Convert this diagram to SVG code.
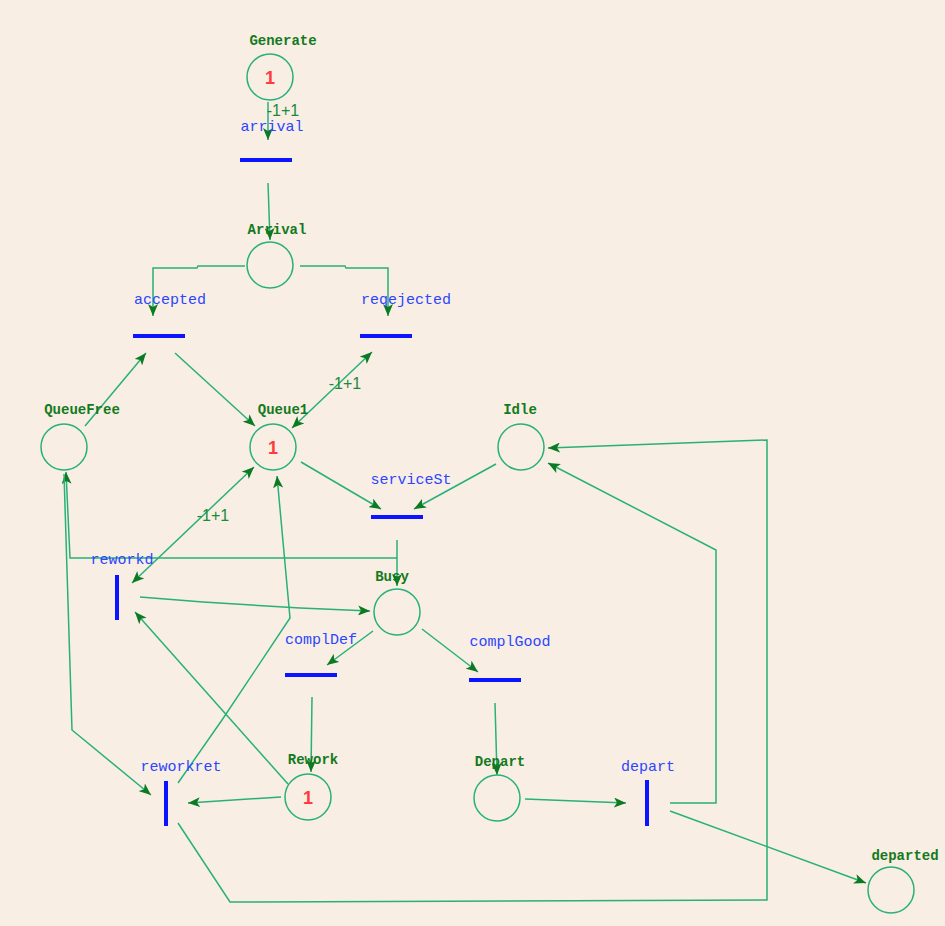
<svg xmlns="http://www.w3.org/2000/svg" width="945" height="926" viewBox="0 0 945 926">
  <defs>
    <marker id="arrow" viewBox="0 0 12 10" refX="12" refY="5" markerWidth="12" markerHeight="10" markerUnits="userSpaceOnUse" orient="auto-start-reverse">
      <path d="M0,0 L12,5 L0,10 L3,5 z" fill="#0b7a22"/>
    </marker>
    <style>
      .bg { fill: #f9eee3; }
      .place { fill: none; stroke: #27b07a; stroke-width: 1.5; }
      .arc { fill: none; stroke: #27b07a; stroke-width: 1.5; }
      .head { marker-end: url(#arrow); }
      .both { marker-start: url(#arrow); marker-end: url(#arrow); }
      .bar { stroke: #0a14ff; stroke-width: 4; }
      .pname { font-family: "Liberation Mono", monospace; font-weight: bold; font-size: 14px; fill: #137a1e; text-anchor: middle; }
      .tname { font-family: "Liberation Mono", monospace; font-size: 15px; fill: #2b46ff; text-anchor: middle; }
      .token { font-family: "Liberation Sans", sans-serif; font-weight: bold; font-size: 18px; fill: #ff3b3b; text-anchor: middle; }
      .weight { font-family: "Liberation Sans", sans-serif; font-size: 16px; fill: #1a8a3a; text-anchor: middle; }
    </style>
  </defs>

  <rect class="bg" x="0" y="0" width="945" height="926"/>

  <!-- connectors -->
  <g id="arcs">
    <path class="arc head" d="M268,102 L268,140"/>
    <path class="arc head" d="M268,183 L270,240"/>
    <path class="arc head" d="M245,266 L198,266 L197,268 L153,268 L153,316"/>
    <path class="arc head" d="M300,266 L345,266 L346,268 L388,268 L388,316"/>
    <path class="arc head" d="M85,426 L146,353"/>
    <path class="arc head" d="M175,353 L255,426"/>
    <path class="arc both" d="M372,352 L292,428"/>
    <path class="arc head" d="M301,462 L381,509"/>
    <path class="arc head" d="M496,464 L414,509"/>
    <path class="arc head" d="M397,540 L397,586"/>
    <path class="arc head" d="M397,558 L70,558 L66,472"/>
    <path class="arc head" d="M64,474 L72,730 L151,795"/>
    <path class="arc both" d="M254,467 L132,583"/>
    <path class="arc head" d="M140,597 L203,602 L300,608 L370,611"/>
    <path class="arc head" d="M288,784 L135,612"/>
    <path class="arc head" d="M281,797 L188,803"/>
    <path class="arc head" d="M178,783 L222,720 L290,618 L277,476"/>
    <path class="arc head" d="M178,823 L230,902 L767,900 L767,440 L548,448"/>
    <path class="arc head" d="M670,803 L716,803 L716,550 L548,463"/>
    <path class="arc head" d="M670,811 L866,883"/>
    <path class="arc head" d="M525,799 L626,803"/>
    <path class="arc head" d="M495,703 L497,775"/>
    <path class="arc head" d="M422,629 L478,672"/>
    <path class="arc head" d="M373,631 L327,665"/>
    <path class="arc head" d="M312,697 L311,772"/>
    <text class="weight" x="283" y="116">-1+1</text>
    <text class="weight" x="345" y="389">-1+1</text>
    <text class="weight" x="213" y="521">-1+1</text>
  </g>

  <!-- places -->
  <g id="Generate">
    <circle class="place" cx="270" cy="77" r="23"/>
    <text class="token" x="270" y="84">1</text>
    <text class="pname" x="283" y="45">Generate</text>
  </g>
  <g id="Arrival">
    <circle class="place" cx="270" cy="265" r="23"/>
    <text class="pname" x="277" y="234">Arrival</text>
  </g>
  <g id="QueueFree">
    <circle class="place" cx="64" cy="447" r="23"/>
    <text class="pname" x="82" y="414">QueueFree</text>
  </g>
  <g id="Queue1">
    <circle class="place" cx="273" cy="447" r="23"/>
    <text class="token" x="273" y="454">1</text>
    <text class="pname" x="283" y="414">Queue1</text>
  </g>
  <g id="Idle">
    <circle class="place" cx="521" cy="447" r="23"/>
    <text class="pname" x="520" y="414">Idle</text>
  </g>
  <g id="Busy">
    <circle class="place" cx="397" cy="612" r="23"/>
    <text class="pname" x="392" y="581">Busy</text>
  </g>
  <g id="Rework">
    <circle class="place" cx="308" cy="797" r="23"/>
    <text class="token" x="308" y="804">1</text>
    <text class="pname" x="313" y="764">Rework</text>
  </g>
  <g id="Depart">
    <circle class="place" cx="497" cy="798" r="23"/>
    <text class="pname" x="500" y="766">Depart</text>
  </g>
  <g id="departed">
    <circle class="place" cx="891" cy="890" r="23"/>
    <text class="pname" x="905" y="860">departed</text>
  </g>

  <!-- transitions -->
  <g id="arrival">
    <line class="bar" x1="240" y1="160" x2="292" y2="160"/>
    <text class="tname" x="272" y="131">arrival</text>
  </g>
  <g id="accepted">
    <line class="bar" x1="133" y1="336" x2="185" y2="336"/>
    <text class="tname" x="170" y="304">accepted</text>
  </g>
  <g id="reqejected">
    <line class="bar" x1="360" y1="336" x2="412" y2="336"/>
    <text class="tname" x="406" y="304">reqejected</text>
  </g>
  <g id="serviceSt">
    <line class="bar" x1="371" y1="517" x2="423" y2="517"/>
    <text class="tname" x="411" y="484">serviceSt</text>
  </g>
  <g id="reworkd">
    <line class="bar" x1="117" y1="575" x2="117" y2="620"/>
    <text class="tname" x="122" y="564">reworkd</text>
  </g>
  <g id="complDef">
    <line class="bar" x1="285" y1="675" x2="337" y2="675"/>
    <text class="tname" x="321" y="644">complDef</text>
  </g>
  <g id="complGood">
    <line class="bar" x1="469" y1="680" x2="521" y2="680"/>
    <text class="tname" x="510" y="646">complGood</text>
  </g>
  <g id="reworkret">
    <line class="bar" x1="166" y1="781" x2="166" y2="826"/>
    <text class="tname" x="181" y="771">reworkret</text>
  </g>
  <g id="depart">
    <line class="bar" x1="647" y1="780" x2="647" y2="826"/>
    <text class="tname" x="648" y="771">depart</text>
  </g>
</svg>
